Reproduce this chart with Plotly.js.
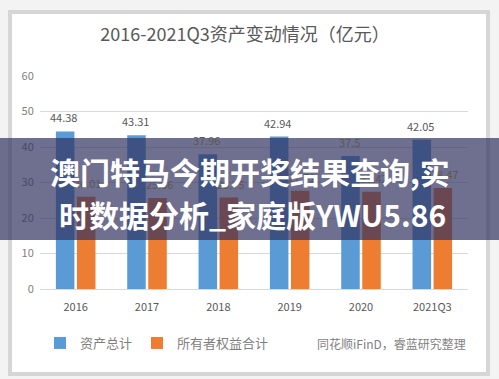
<!DOCTYPE html>
<html>
<head>
<meta charset="utf-8">
<script src="https://cdn.plot.ly/plotly-3.0.1.min.js"></script>
<style>html,body{margin:0;padding:0;background:#fff;}#chart{width:499px;height:379px;}</style>
</head>
<body>
<div id="chart"></div>
<script>
const categories = ['2016', '2017', '2018', '2019', '2020', '2021Q3'];
const totalAssets = [44.38, 43.31, 37.96, 42.94, 37.5, 42.05];
const ownersEquity = [26.01, 25.66, 25.75, 27.71, 27.42, 28.47];
const seriesNames = ['资产总计', '所有者权益合计'];
const yTicks = [0, 10, 20, 30, 40, 50, 60];
const titleText = '2016-2021Q3资产变动情况（亿元）';
const sourceText = '同花顺iFinD，睿蓝研究整理';
const bannerLines = ['澳门特马今期开奖结果查询,实', '时数据分析_家庭版YWU5.86'];

const W = 499, H = 379, L = 40, R = 31, T = 76, B = 90;
const pw = W - L - R, ph = H - T - B;
const px = p => (p - L) / pw;
const py = q => (H - B - q) / ph;

const font = 'Noto Sans CJK SC, Noto Sans, sans-serif';
const blue = '#5B9BD5', orange = '#ED7D31';

const traces = [
  {type: 'bar', name: seriesNames[0], x: categories, y: totalAssets, marker: {color: blue}, hoverinfo: 'x+y'},
  {type: 'bar', name: seriesNames[1], x: categories, y: ownersEquity, marker: {color: orange}, hoverinfo: 'x+y'}
];

const annotations = [];
[[totalAssets, -12], [ownersEquity, 12]].forEach(([vals, xs]) => {
  vals.forEach((v, i) => {
    annotations.push({x: i, y: v, xref: 'x', yref: 'y', text: String(v), showarrow: false,
      xshift: xs, yshift: 14, yanchor: 'middle', font: {family: font, size: 11, color: '#595959'}});
  });
});
annotations.push({x: px(391), y: py(343), xref: 'paper', yref: 'paper', text: sourceText, showarrow: false,
  xanchor: 'center', yanchor: 'middle', font: {family: font, size: 12, color: '#7f7f7f'}});
annotations.push({x: px(250), y: py(171), xref: 'paper', yref: 'paper', text: '<b>' + bannerLines[0] + '</b>', showarrow: false,
  xanchor: 'center', yanchor: 'middle', font: {family: font, size: 30, color: '#ffffff'}});
annotations.push({x: px(252), y: py(214), xref: 'paper', yref: 'paper', text: '<b>' + bannerLines[1] + '</b>', showarrow: false,
  xanchor: 'center', yanchor: 'middle', font: {family: font, size: 30, color: '#ffffff'}});

const layout = {
  width: W, height: H,
  margin: {l: L, r: R, t: T, b: B},
  paper_bgcolor: '#f3f3f3', plot_bgcolor: 'rgba(0,0,0,0)',
  title: {text: titleText, x: 245 / W, xanchor: 'center', y: 1 - 35 / H, yanchor: 'middle',
    font: {family: font, size: 18, color: '#595959'}},
  barmode: 'group', bargap: 0.41, bargroupgap: 0.12,
  xaxis: {type: 'category', range: [-0.5, 5.5], tickfont: {family: font, size: 11, color: '#595959'}, showgrid: false,
    showline: false, ticks: 'outside', ticklen: 8, tickcolor: 'rgba(0,0,0,0)', fixedrange: true},
  yaxis: {range: [0, 60], tickvals: yTicks, tickfont: {family: font, size: 11, color: '#7f7f7f'},
    gridcolor: '#d9d9d9', gridwidth: 1, zeroline: true, zerolinecolor: '#d9d9d9', showline: false,
    ticks: 'outside', ticklen: 3, tickcolor: 'rgba(0,0,0,0)', fixedrange: true},
  showlegend: true,
  legend: {orientation: 'h', x: px(40), y: py(343), xanchor: 'left', yanchor: 'middle',
    font: {family: font, size: 13, color: '#7f7f7f'}, itemwidth: 30, bgcolor: 'rgba(0,0,0,0)'},
  shapes: [
    {type: 'rect', xref: 'paper', yref: 'paper', x0: px(10), x1: px(488), y0: py(374), y1: py(12),
      fillcolor: '#ffffff', line: {color: '#d6d6d6', width: 4}, layer: 'below'},
    {type: 'rect', xref: 'paper', yref: 'paper', x0: px(-2), x1: px(501), y0: py(240), y1: py(138),
      fillcolor: 'rgba(50,50,95,0.7)', line: {width: 0}, layer: 'above'}
  ],
  annotations: annotations
};

Plotly.newPlot('chart', traces, layout, {displayModeBar: false, staticPlot: true});
</script>
</body>
</html>
